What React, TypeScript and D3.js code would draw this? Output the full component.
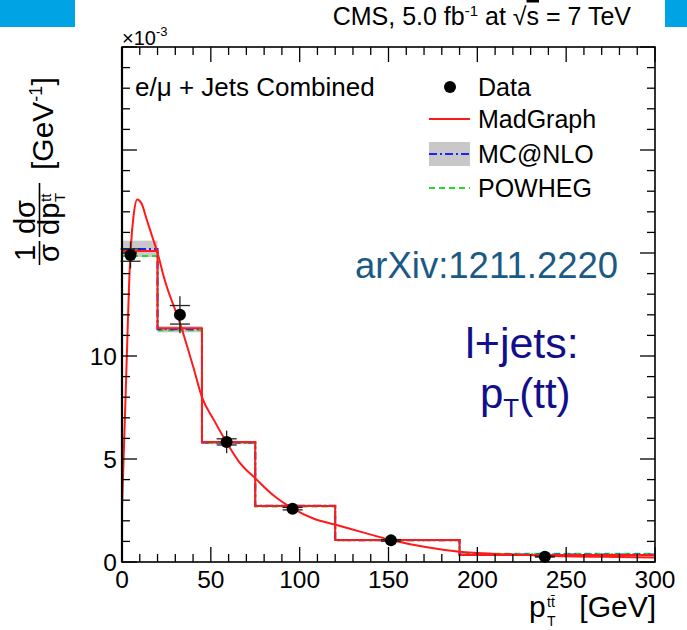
import { useEffect, useRef } from "react"
import * as d3 from "d3"

// bin edges of the pT(ttbar) histogram, GeV
const binEdges = [0, 20, 45, 75, 120, 190, 300]

// normalised cross section per bin (x10^-3 GeV^-1)
const madgraphHist = [15.1, 11.35, 5.83, 2.72, 1.07, 0.34]
const mcatnloHist = [15.2, 11.3, 5.8, 2.73, 1.05, 0.36]
const mcatnloLow = [14.8, 11.15, 5.72, 2.68, 1.03, 0.34]
const mcatnloHigh = [15.6, 11.45, 5.88, 2.78, 1.08, 0.38]
const powhegHist = [14.85, 11.25, 5.78, 2.7, 1.06, 0.4]

// data points
const dataX = [4.8, 32.6, 58.9, 96, 151.4, 238]
const dataY = [14.9, 12.0, 5.83, 2.59, 1.05, 0.26]
const dataStat = [0.3, 0.45, 0.15, 0.06, 0.04, 0.02]
const dataTotal = [0.65, 0.9, 0.55, 0.2, 0.1, 0.05]

// smooth MadGraph prediction
const madgraphCurveX = [0, 1, 2, 3, 4, 5, 6.5, 8.6, 11, 14, 17, 20, 24, 32.6, 40, 45, 52, 58.9, 66, 75.8, 85, 96, 108, 120.8, 135, 151.4, 170, 190, 215, 238, 270, 300]
const madgraphCurveY = [2.6, 5.3, 8.0, 10.8, 13.5, 15.3, 16.8, 17.6, 17.4, 16.6, 15.8, 15.0, 13.7, 11.6, 9.5, 8.0, 6.85, 5.8, 4.85, 4.0, 3.25, 2.6, 2.1, 1.8, 1.45, 1.07, 0.74, 0.5, 0.38, 0.3, 0.25, 0.22]

const xTickLabels = [0, 50, 100, 150, 200, 250, 300]
const yTickLabels = [0, 5, 10]

const legendEntries = ["Data", "MadGraph", "MC@NLO", "POWHEG"]

export default function App() {
  const svgRef = useRef<SVGSVGElement>(null)

  useEffect(() => {
    if (!svgRef.current) return
    const svg = d3.select(svgRef.current)
    svg.selectAll("*").remove()

    const W = 687
    const H = 630
    const left = 122, right = 655, top = 47, bottom = 562
    const font = '"Liberation Sans", Arial, Helvetica, sans-serif'

    const x = d3.scaleLinear().domain([0, 300]).range([left, right])
    const y = d3.scaleLinear().domain([0, 25]).range([bottom, top])

    svg.append("rect").attr("width", W).attr("height", H).attr("fill", "white")

    // blue slide bars at the top
    svg.append("rect").attr("x", 0).attr("y", 0).attr("width", 75).attr("height", 27).attr("fill", "#00a3e4")
    svg.append("rect").attr("x", 665).attr("y", 0).attr("width", 22).attr("height", 27).attr("fill", "#00a3e4")

    const bins = d3.range(madgraphHist.length)

    // MC@NLO uncertainty band
    svg
      .append("g")
      .selectAll("rect")
      .data(bins)
      .join("rect")
      .attr("x", (i) => x(binEdges[i]))
      .attr("width", (i) => x(binEdges[i + 1]) - x(binEdges[i]))
      .attr("y", (i) => y(mcatnloHigh[i]))
      .attr("height", (i) => y(mcatnloLow[i]) - y(mcatnloHigh[i]))
      .attr("fill", "#c8c8c8")

    const histPath = (vals: number[]) => {
      const pts = binEdges.map((e, i) => [e, vals[Math.min(i, vals.length - 1)]] as [number, number])
      return d3
        .line<[number, number]>()
        .x((d) => x(d[0]))
        .y((d) => y(d[1]))
        .curve(d3.curveStepAfter)(pts)
    }

    svg.append("path").attr("d", histPath(powhegHist)).attr("fill", "none")
      .attr("stroke", "#22dd22").attr("stroke-width", 2).attr("stroke-dasharray", "6,4")
    svg.append("path").attr("d", histPath(mcatnloHist)).attr("fill", "none")
      .attr("stroke", "#2020ff").attr("stroke-width", 2).attr("stroke-dasharray", "8,3,2,3")
    svg.append("path").attr("d", histPath(madgraphHist)).attr("fill", "none")
      .attr("stroke", "#ff1a1a").attr("stroke-width", 2)

    // smooth curve
    const curvePts = madgraphCurveX.map((v, i) => [v, madgraphCurveY[i]] as [number, number])
    svg
      .append("path")
      .attr("d", d3.line<[number, number]>().x((d) => x(d[0])).y((d) => y(d[1])).curve(d3.curveMonotoneX)(curvePts))
      .attr("fill", "none")
      .attr("stroke", "#ff1a1a")
      .attr("stroke-width", 2)

    // data with error bars
    const dg = svg.append("g")
    dataX.forEach((dx, i) => {
      const cx = x(dx)
      dg.append("line").attr("x1", cx).attr("x2", cx)
        .attr("y1", y(dataY[i] + dataTotal[i])).attr("y2", y(dataY[i] - dataTotal[i]))
        .attr("stroke", "#222").attr("stroke-width", 1.3)
      ;[dataY[i] + dataStat[i], dataY[i] - dataStat[i]].forEach((v) => {
        dg.append("line").attr("x1", cx - 10).attr("x2", cx + 10).attr("y1", y(v)).attr("y2", y(v))
          .attr("stroke", "#222").attr("stroke-width", 1.3)
      })
      dg.append("circle").attr("cx", cx).attr("cy", y(dataY[i])).attr("r", 6).attr("fill", "black")
    })

    // frame
    svg.append("rect").attr("x", left).attr("y", top).attr("width", right - left).attr("height", bottom - top)
      .attr("fill", "none").attr("stroke", "black").attr("stroke-width", 1.6)
    svg.append("line").attr("x1", left).attr("x2", left).attr("y1", top).attr("y2", bottom)
      .attr("stroke", "black").attr("stroke-width", 2.2)

    // ticks
    const tg = svg.append("g").attr("stroke", "black").attr("stroke-width", 1.3)
    d3.range(0, 301, 10).forEach((v) => {
      const len = v % 50 === 0 ? 15 : 8
      tg.append("line").attr("x1", x(v)).attr("x2", x(v)).attr("y1", bottom).attr("y2", bottom - len)
      tg.append("line").attr("x1", x(v)).attr("x2", x(v)).attr("y1", top).attr("y2", top + len)
    })
    d3.range(0, 26, 1).forEach((v) => {
      const len = v % 5 === 0 ? 15 : 8
      tg.append("line").attr("x1", left).attr("x2", left + len).attr("y1", y(v)).attr("y2", y(v))
      tg.append("line").attr("x1", right).attr("x2", right - len).attr("y1", y(v)).attr("y2", y(v))
    })

    const text = (px: number, py: number, s: string, size: number, anchor = "start", color = "black") =>
      svg.append("text").attr("x", px).attr("y", py).attr("font-family", font).attr("font-size", size)
        .attr("text-anchor", anchor).attr("fill", color).text(s)

    xTickLabels.forEach((v) => text(x(v), 588, String(v), 24.5, "middle"))
    yTickLabels.forEach((v) => text(left - 5, y(v) + 9, String(v), 24.5, "end"))

    // x10^-3
    const exp = text(122, 45, "×10", 20)
    exp.append("tspan").attr("dy", -9).attr("font-size", 13).text("-3")

    // title
    const title = text(631, 25, "CMS, 5.0 fb", 25, "end")
    title.append("tspan").attr("dy", -9).attr("font-size", 15).text("-1")
    title.append("tspan").attr("dy", 9).text(" at √")
    title.append("tspan").style("text-decoration", "overline").text("s")
    title.append("tspan").text(" = 7 TeV")

    // x axis title
    text(529, 617, "p", 30)
    text(547, 607, "tt\u0304", 14)
    text(547, 626, "T", 14)
    text(656, 617, "[GeV]", 30, "end")

    // y axis title (rotated)
    const yl = svg.append("g").attr("transform", "rotate(-90)").attr("font-family", font).attr("fill", "black")
    const yt = (lx: number, ly: number, s: string, size: number, anchor = "start") =>
      yl.append("text").attr("x", lx).attr("y", ly).attr("font-size", size).attr("text-anchor", anchor).text(s)
    yt(-253, 35, "1", 29, "middle")
    yt(-253, 59, "σ", 29, "middle")
    yl.append("line").attr("x1", -265).attr("x2", -241).attr("y1", 39.5).attr("y2", 39.5).attr("stroke", "black").attr("stroke-width", 1.6)
    yt(-217, 35, "dσ", 29, "middle")
    yt(-235, 59, "dp", 29)
    yt(-202, 51, "tt\u0304", 15)
    yt(-202, 65, "T", 15)
    yl.append("line").attr("x1", -237).attr("x2", -183).attr("y1", 39.5).attr("y2", 39.5).attr("stroke", "black").attr("stroke-width", 1.6)
    const gev = yt(-170, 53, "[GeV", 30)
    gev.append("tspan").attr("dy", -11).attr("font-size", 18).text("-1")
    gev.append("tspan").attr("dy", 11).text("]")

    // header text inside the frame
    text(135, 96, "e/μ + Jets Combined", 26)

    // legend
    const legY = [87, 119, 154, 188]
    legendEntries.forEach((name, i) => text(478, legY[i] + 9, name, 25))
    svg.append("circle").attr("cx", 450).attr("cy", legY[0]).attr("r", 6).attr("fill", "black")
    svg.append("line").attr("x1", 429).attr("x2", 470).attr("y1", legY[1]).attr("y2", legY[1])
      .attr("stroke", "#ff1a1a").attr("stroke-width", 2)
    svg.append("rect").attr("x", 429).attr("y", legY[2] - 12).attr("width", 41).attr("height", 24).attr("fill", "#c8c8c8")
    svg.append("line").attr("x1", 429).attr("x2", 470).attr("y1", legY[2]).attr("y2", legY[2])
      .attr("stroke", "#2020ff").attr("stroke-width", 2).attr("stroke-dasharray", "8,3,2,3")
    svg.append("line").attr("x1", 429).attr("x2", 470).attr("y1", legY[3]).attr("y2", legY[3])
      .attr("stroke", "#22dd22").attr("stroke-width", 2).attr("stroke-dasharray", "6,4")

    // slide annotations
    text(355, 278, "arXiv:1211.2220", 36.5, "start", "#1b5a84")
    text(522, 358, "l+jets:", 43, "middle", "#10108c")
    const pt = text(480, 408, "p", 42, "start", "#10108c")
    pt.append("tspan").attr("dy", 9).attr("font-size", 26).text("T")
    pt.append("tspan").attr("dy", -9).text("(tt)")
  }, [])

  return (
    <div style={{ position: "absolute", left: 0, top: 0 }}>
      <svg ref={svgRef} width={687} height={630} style={{ display: "block" }}></svg>
    </div>
  )
}
